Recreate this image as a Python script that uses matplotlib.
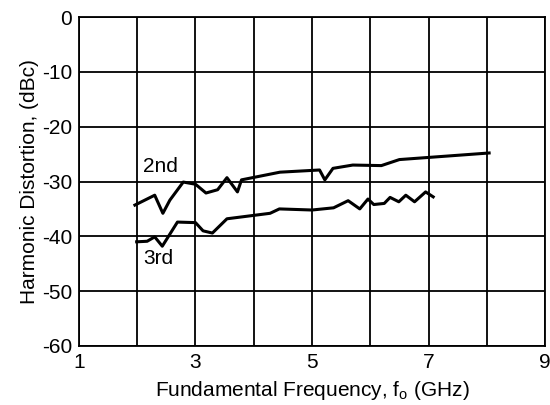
import numpy as np
import matplotlib.pyplot as plt

plt.rcParams['font.family'] = ['Liberation Sans', 'DejaVu Sans']
plt.rcParams['axes.unicode_minus'] = False
plt.rcParams['mathtext.fontset'] = 'custom'
plt.rcParams['mathtext.rm'] = 'Liberation Sans'

# 2nd harmonic (GHz, dBc)
f_2nd = [1.96, 2.30, 2.44, 2.56, 2.79, 3.00, 3.18, 3.38, 3.54, 3.72, 3.79,
         4.45, 5.13, 5.22, 5.36, 5.70, 6.19, 6.50, 8.04]
hd_2nd = [-34.3, -32.5, -35.8, -33.4, -30.1, -30.5, -32.1, -31.5, -29.3, -31.9, -29.7,
          -28.3, -27.9, -29.7, -27.6, -27.0, -27.1, -26.0, -24.8]

# 3rd harmonic
f_3rd = [1.99, 2.17, 2.30, 2.43, 2.69, 3.00, 3.13, 3.29, 3.54, 4.28, 4.44,
         5.00, 5.37, 5.62, 5.82, 5.96, 6.06, 6.24, 6.34, 6.49, 6.61, 6.76, 6.95, 7.08]
hd_3rd = [-41.0, -40.9, -40.1, -41.8, -37.4, -37.5, -39.0, -39.4, -36.8, -35.8, -35.0,
          -35.2, -34.8, -33.5, -35.0, -33.2, -34.2, -34.0, -32.9, -33.7, -32.5, -33.7, -31.9, -32.8]

xticks = [1, 2, 3, 4, 5, 6, 7, 8, 9]
xlabels = ['1', '', '3', '', '5', '', '7', '', '9']
yticks = [0, -10, -20, -30, -40, -50, -60]

fig = plt.figure(figsize=(5.5, 4.05), dpi=100)
ax = fig.add_axes([0.1436, 0.1457, 0.8474, 0.8123])

ax.plot(f_2nd, hd_2nd, color='black', lw=2.2)
ax.plot(f_3rd, hd_3rd, color='black', lw=2.2)

ax.text(2.1, -27.2, '2nd', fontsize=15, va='center', ha='left')
ax.text(2.1, -44.1, '3rd', fontsize=15, va='center', ha='left')

ax.set_xlim(1, 9)
ax.set_ylim(-60, 0)
ax.set_xticks(xticks)
ax.set_xticklabels(xlabels)
ax.set_yticks(yticks)
ax.grid(True, color='black', lw=1.3)
ax.tick_params(length=0, labelsize=15, pad=5)
for s in ax.spines.values():
    s.set_linewidth(1.3)

ax.set_xlabel('Fundamental Frequency, f$_\\mathregular{o}$ (GHz)', fontsize=15, labelpad=5)
ax.set_ylabel('Harmonic Distortion, (dBc)', fontsize=15, labelpad=2)

fig.savefig('out.png', dpi=100)
